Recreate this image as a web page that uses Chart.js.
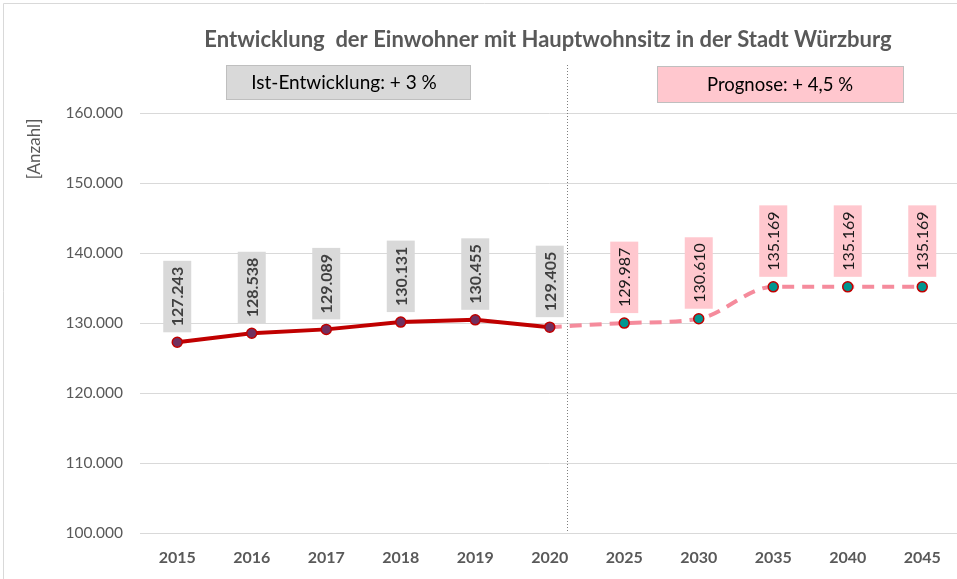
<!DOCTYPE html>
<html>
<head>
<meta charset="utf-8">
<script src="https://cdn.jsdelivr.net/npm/chart.js@4"></script>
<style>
  html, body { margin: 0; padding: 0; background: #fff; overflow: hidden; }
  #wrap { width: 957px; height: 579px; overflow: hidden; }
</style>
</head>
<body>
<div id="wrap"><canvas id="popChart" width="966" height="579"></canvas></div>
<script>
// data
const years = ['2015', '2016', '2017', '2018', '2019', '2020', '2025', '2030', '2035', '2040', '2045'];
const istValues = [127243, 128538, 129089, 130131, 130455, 129405, null, null, null, null, null];
const prognoseValues = [null, null, null, null, null, 129405, 129987, 130610, 135169, 135169, 135169];
const prognoseLabelFrom = 6; // first forecast point that gets its own label
const yTicks = [100000, 110000, 120000, 130000, 140000, 150000, 160000];

const chartTitle = 'Entwicklung  der Einwohner mit Hauptwohnsitz in der Stadt Würzburg';
const istText = 'Ist-Entwicklung: + 3 %';
const prognoseText = 'Prognose: + 4,5 %';
const yTitle = '[Anzahl]';

const FONT = 'Lato, "Open Sans", sans-serif';

function fmt(v) {
  return v.toString().replace(/\B(?=(\d{3})+(?!\d))/g, '.');
}

// extra drawing: title, info boxes, axis title, divider, value labels
const decorations = {
  id: 'decorations',
  beforeDraw(chart) {
    const c = chart.ctx;
    c.save();
    c.strokeStyle = '#D9D9D9';
    c.lineWidth = 1;
    c.beginPath();
    c.moveTo(3.5, 579);
    c.lineTo(3.5, 3.5);
    c.lineTo(966, 3.5);
    c.stroke();
    c.restore();
  },
  afterDatasetsDraw(chart) {
    const c = chart.ctx;
    const x = chart.scales.x;
    const y = chart.scales.y;
    c.save();

    // title
    c.fillStyle = '#595959';
    c.font = 'bold 22px ' + FONT;
    c.textAlign = 'center';
    c.textBaseline = 'middle';
    c.fillText(chartTitle, 548, 40);

    // info boxes
    c.lineWidth = 1;
    c.fillStyle = '#D9D9D9';
    c.strokeStyle = '#BFBFBF';
    c.fillRect(226.5, 65.5, 244, 34);
    c.strokeRect(226.5, 65.5, 244, 34);
    c.fillStyle = '#000';
    c.font = '19px ' + FONT;
    c.fillText(istText, 344, 83);

    c.fillStyle = '#FFC7CE';
    c.strokeStyle = '#BFBFBF';
    c.fillRect(657.5, 66.5, 246, 36);
    c.strokeRect(657.5, 66.5, 246, 36);
    c.fillStyle = '#000';
    c.font = '18.5px ' + FONT;
    c.fillText(prognoseText, 780, 85);

    // y axis title
    c.save();
    c.translate(35, 149);
    c.rotate(-Math.PI / 2);
    c.fillStyle = '#595959';
    c.font = '17px ' + FONT;
    c.fillText(yTitle, 0, 0);
    c.restore();

    // dotted divider between actual and forecast
    const x2020 = x.getPixelForValue(5);
    const x2025 = x.getPixelForValue(6);
    const dx = Math.round(x2020 + (x2025 - x2020) * 0.23) + 0.5;
    c.strokeStyle = '#7F7F7F';
    c.lineWidth = 1;
    c.setLineDash([1, 2]);
    c.beginPath();
    c.moveTo(dx, 65);
    c.lineTo(dx, y.bottom);
    c.stroke();
    c.setLineDash([]);

    // value labels
    function label(i, v, bold, bg, fg) {
      const px = x.getPixelForValue(i);
      const py = y.getPixelForValue(v);
      c.save();
      c.translate(px, py - 10);
      c.rotate(-Math.PI / 2);
      c.font = (bold ? 'bold ' : '') + '16px ' + FONT;
      const txt = fmt(v);
      const w = c.measureText(txt).width + 12;
      c.fillStyle = bg;
      c.fillRect(0, -14, w, 28);
      c.fillStyle = fg;
      c.textAlign = 'center';
      c.textBaseline = 'middle';
      c.fillText(txt, w / 2, 1);
      c.restore();
    }
    istValues.forEach((v, i) => { if (v !== null) label(i, v, true, '#D9D9D9', '#404040'); });
    prognoseValues.forEach((v, i) => { if (v !== null && i >= prognoseLabelFrom) label(i, v, false, '#FFC7CE', '#1a1a1a'); });

    c.restore();
  }
};

const ctx = document.getElementById('popChart').getContext('2d');
const popChart = new Chart(ctx, {
  type: 'line',
  data: {
    labels: years,
    datasets: [{
      label: 'Ist',
      data: istValues,
      borderColor: '#C00000',
      borderWidth: 4,
      pointRadius: 5,
      pointBorderWidth: 1.5,
      pointBackgroundColor: '#70305F',
      pointBorderColor: '#C00000',
      tension: 0,
      spanGaps: false
    }, {
      label: 'Prognose',
      data: prognoseValues,
      borderColor: '#F58B9C',
      borderWidth: 4,
      borderDash: [12, 8],
      pointRadius: prognoseValues.map((v, i) => i >= prognoseLabelFrom ? 5 : 0),
      pointBorderWidth: 1.5,
      pointBackgroundColor: '#009690',
      pointBorderColor: '#C00000',
      cubicInterpolationMode: 'monotone',
      spanGaps: false
    }]
  },
  options: {
    responsive: false,
    animation: false,
    layout: { padding: { top: 113, left: 0, right: 0, bottom: 0 } },
    plugins: {
      legend: { display: false },
      title: { display: false },
      tooltip: { enabled: false }
    },
    scales: {
      x: {
        offset: true,
        grid: { display: false, drawTicks: false },
        border: { color: '#D9D9D9', width: 1 },
        ticks: {
          color: '#595959',
          font: { family: FONT, size: 16, weight: 'bold' },
          padding: 15,
          maxRotation: 0
        },
        afterFit(scale) { scale.height = 46; }
      },
      y: {
        min: 100000,
        max: 160000,
        afterBuildTicks(scale) { scale.ticks = yTicks.map(v => ({ value: v })); },
        grid: { color: '#D9D9D9', drawTicks: false },
        border: { display: false },
        ticks: {
          color: '#595959',
          font: { family: FONT, size: 15.5 },
          padding: 17,
          callback: (v) => fmt(v)
        },
        afterFit(scale) { scale.width = 140; }
      }
    }
  },
  plugins: [decorations]
});
</script>
</body>
</html>
